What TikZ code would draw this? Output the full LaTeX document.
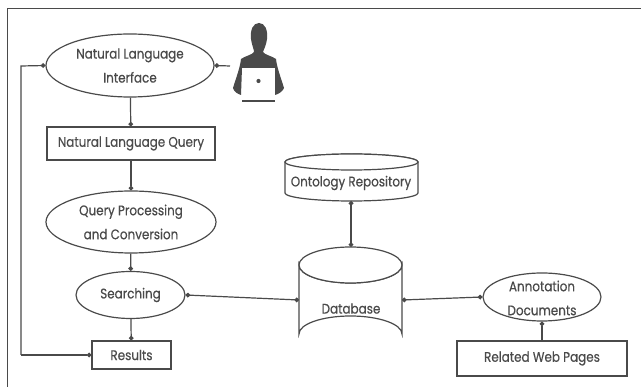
\documentclass[tikz,border=0pt]{standalone}
\usepackage{fontspec}
\setmainfont[FakeStretch=0.86,FakeBold=0.4]{Poppins}
\usetikzlibrary{shapes.geometric,arrows.meta}
\definecolor{ink}{HTML}{4A4A4A}
\definecolor{txt}{HTML}{4A4A4A}
\tikzset{
  every node/.style={text=txt,font=\fontsize{13.9}{24}\selectfont,align=center,inner sep=0pt},
  oval/.style={draw=ink,line width=1.2pt,ellipse,fill=white},
  boxn/.style={draw=ink,line width=1.2pt,rectangle,fill=white},
  link/.style={draw=ink,line width=1.2pt,-{Circle[length=4.6pt]}},
  both/.style={draw=ink,line width=1.2pt,{Circle[length=4.6pt]}-{Circle[length=4.6pt]}},
  cyl/.style={draw=ink,line width=1.2pt,fill=white}
}
\begin{document}
\begin{tikzpicture}[x=1pt,y=-1pt]
\useasboundingbox (0,0) rectangle (641,387);
\fill[white] (0,0) rectangle (641,387);
\draw[ink,line width=0.9pt] (7.5,387) -- (7.5,8) -- (641,8);
% cylinders
\draw[cyl] (285,162) arc[x radius=66.5,y radius=8,start angle=180,end angle=360] -- (418,193)
  arc[x radius=66.5,y radius=8,start angle=0,end angle=180] -- cycle;
\draw[cyl] (351.5,162) ellipse[x radius=66.5,y radius=8];
\draw[cyl] (299,265) -- (299,334) arc[x radius=51.5,y radius=18,start angle=180,end angle=360] -- (402,265)
  arc[x radius=51.5,y radius=18,start angle=0,end angle=180] -- cycle;
\draw[cyl] (350.5,265) ellipse[x radius=51.5,y radius=18];
% nodes
\node[oval,minimum width=168pt,minimum height=63pt] (nli) at (130,65.5) {Natural Language\\Interface};
\node[boxn,minimum width=168pt,minimum height=33pt] (nlq) at (131,143.5) {Natural Language Query};
\node[oval,minimum width=170pt,minimum height=62pt] (qpc) at (131,222) {Query Processing\\and Conversion};
\node[oval,minimum width=109pt,minimum height=47pt] (sea) at (130.5,295) {Searching};
\node[boxn,minimum width=79pt,minimum height=28pt] (res) at (131.5,355) {Results};
\node[oval,minimum width=118pt,minimum height=48pt] (ann) at (542,297) {};
\node[boxn,minimum width=170pt,minimum height=35pt] (rel) at (542,358.5) {Related Web Pages};
\node at (542,298) {Annotation\\Documents};
\node (ont) at (351,183) {Ontology Repository};
\node (db) at (351,308.5) {Database};
\coordinate (ontb) at (351,201);
\coordinate (dbt) at (351,247);
\coordinate (dbl) at (299,300);
\coordinate (dbr) at (402,300);
\coordinate (user) at (230,66);
\coordinate (fb) at (21,66);
\coordinate (fc) at (21,355);
% connectors
\draw[link] (nli) -- (nlq);
\draw[link] (nlq) -- (qpc);
\draw[link] (qpc) -- (sea);
\draw[link] (sea) -- (res);
\draw[link] (user) -- (nli.east);
\draw[link] (fc) -- (res.west);
\draw[link] (fc) -- (fb) -- (nli.west);
\draw[both] (sea.east) -- (dbl);
\draw[both] (ontb) -- (dbt);
\draw[both] (dbr) -- (ann.west);
\draw[link] (rel.north) -- (ann.south);
% person
\fill[ink] (259,23) .. controls (253,23) and (250,30) .. (251,39)
  .. controls (252,46) and (254,49) .. (254,52) .. controls (252,55) and (245,56) .. (241,59)
  .. controls (240,68) and (236,78) .. (233,88) .. controls (234,92) and (238,94) .. (241,95)
  -- (242,68) -- (275,68) -- (275,95) .. controls (279,94) and (283,91) .. (284,88)
  .. controls (281,78) and (277,68) .. (276,59) .. controls (272,56) and (265,55) .. (263,52)
  .. controls (264,49) and (266,46) .. (267,39) .. controls (268,30) and (265,23) .. (259,23) -- cycle;
\fill[ink] (258.5,81) circle[radius=2.1];
\draw[ink,line width=1.3pt] (242,101) -- (275,101);
\end{tikzpicture}
\end{document}
